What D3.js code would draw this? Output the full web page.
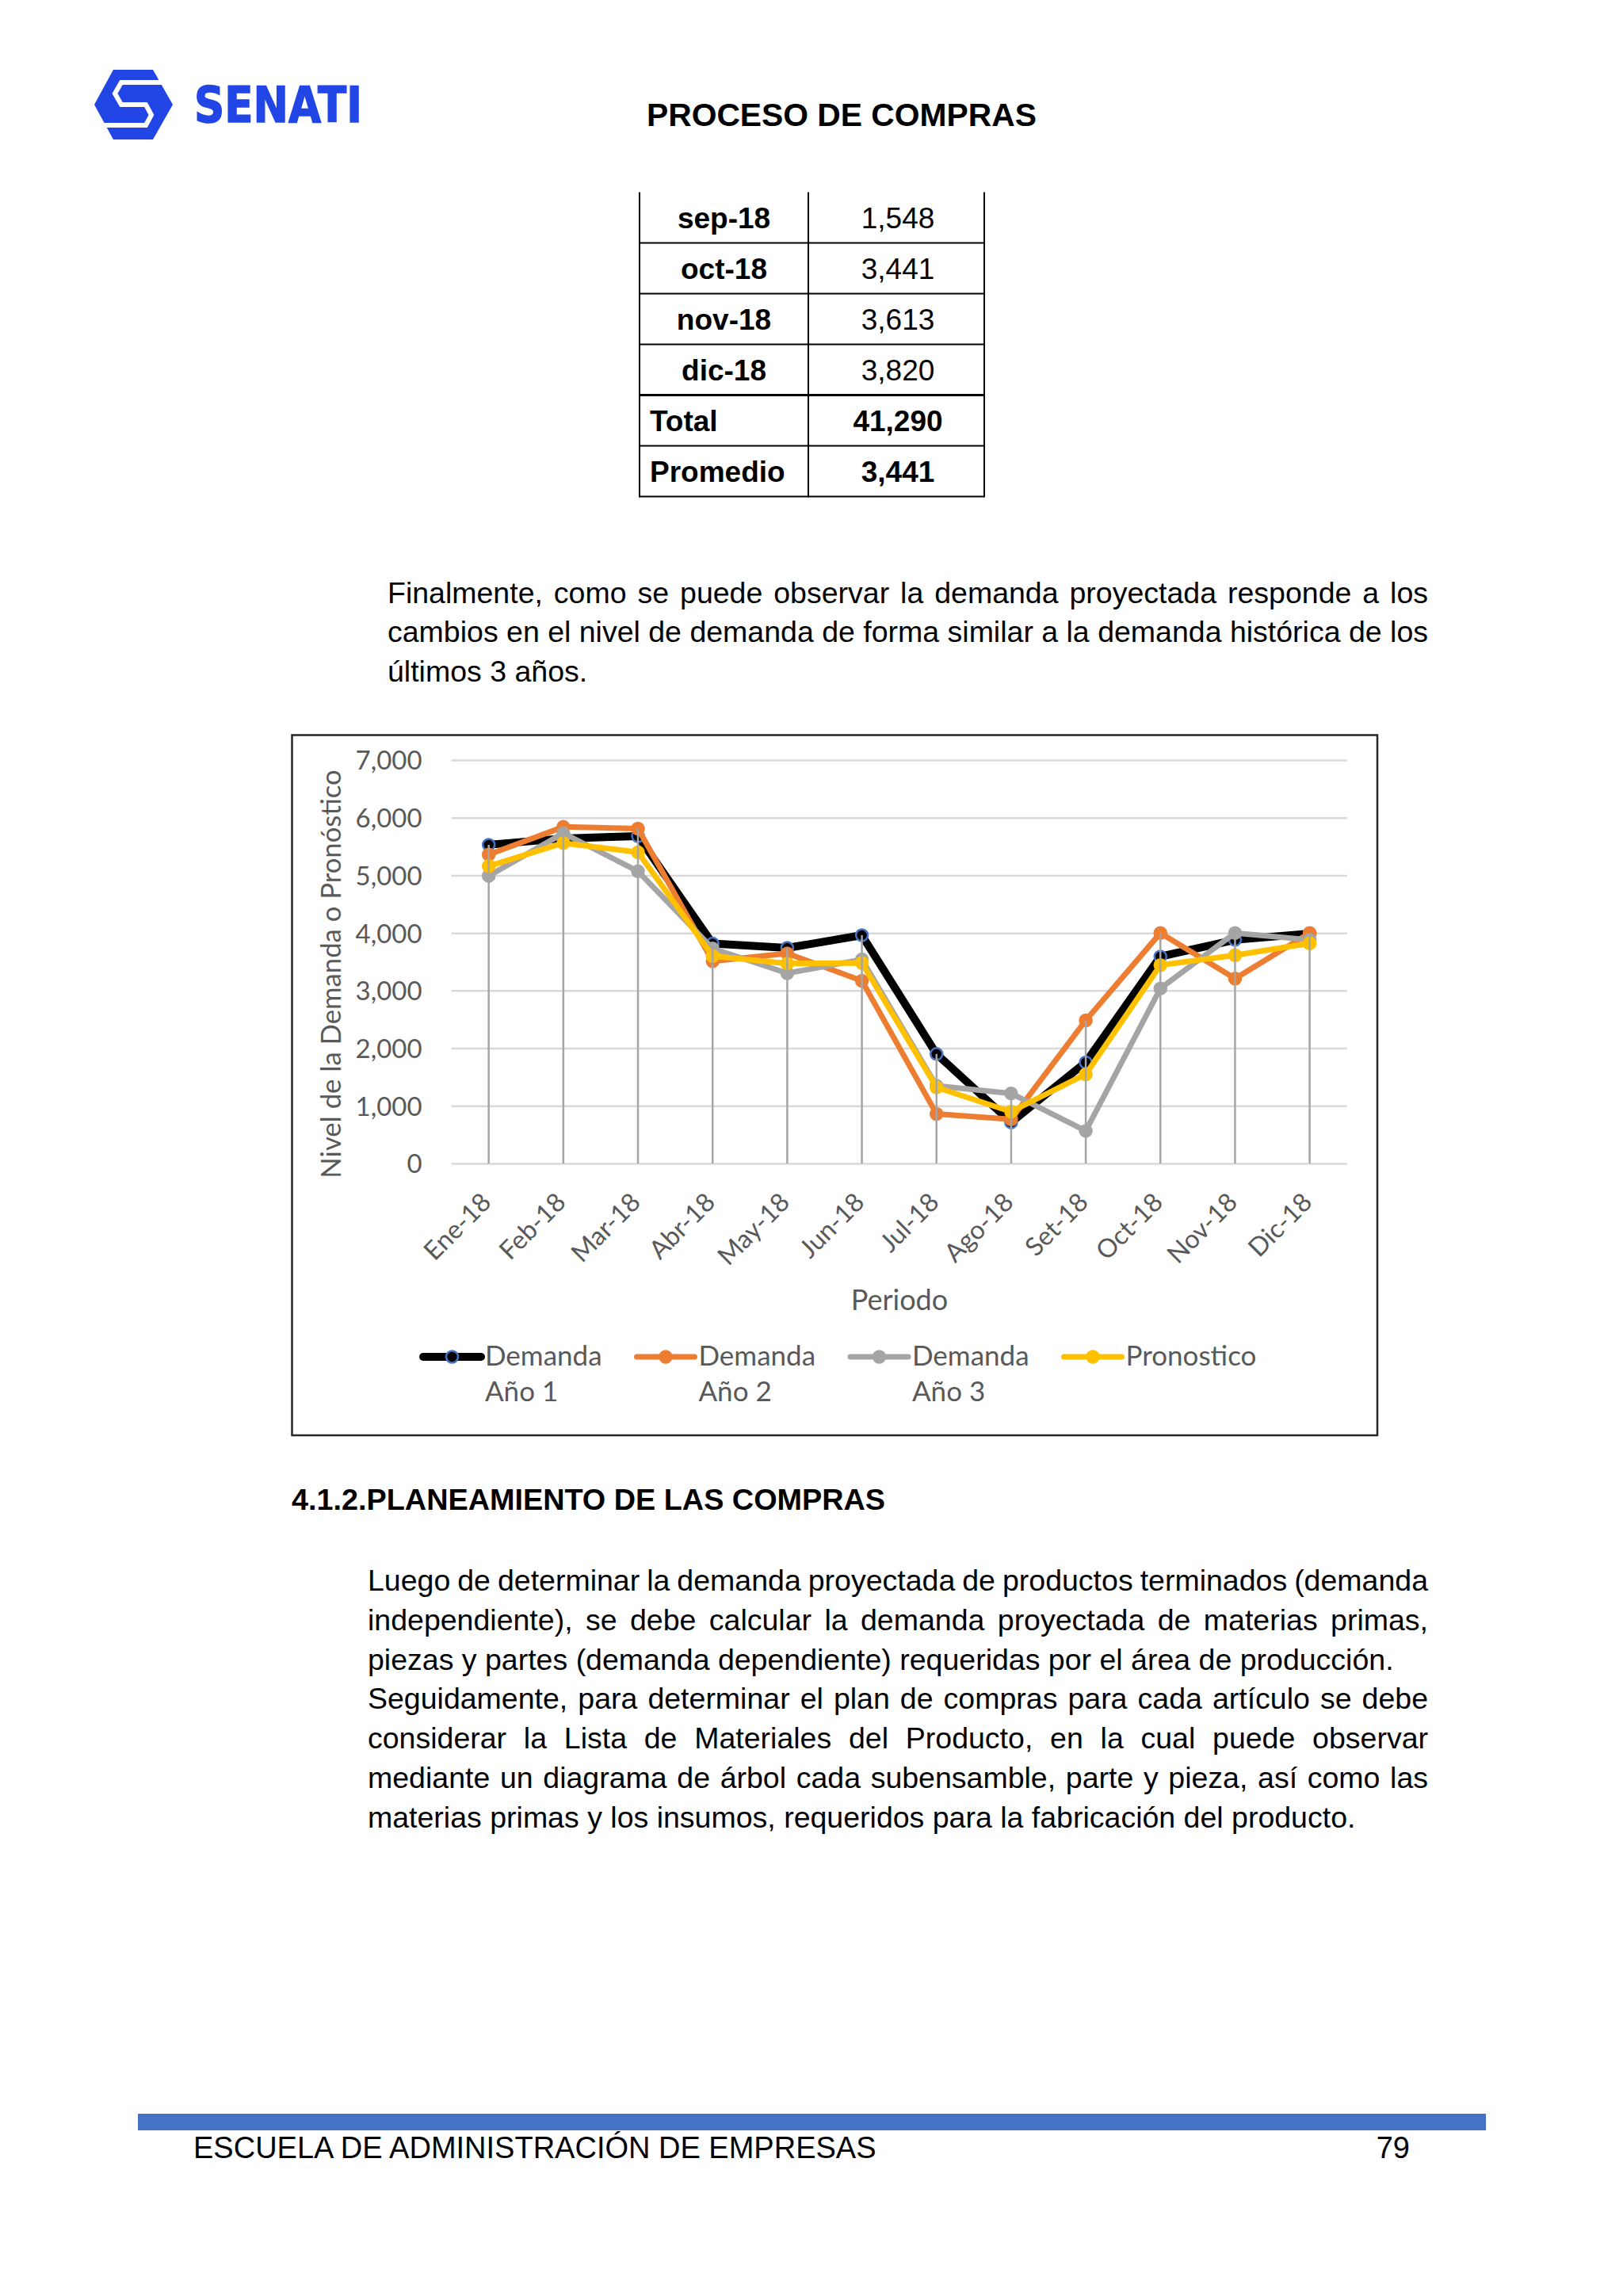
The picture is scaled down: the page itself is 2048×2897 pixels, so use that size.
<!DOCTYPE html>
<html>
<head>
<meta charset="utf-8">
<script src="https://cdn.jsdelivr.net/npm/d3@7/dist/d3.min.js"></script>
<style>
html,body{margin:0;padding:0;background:#fff;}
svg{display:block;}
</style>
</head>
<body>
<svg id="page" width="2048" height="2897"></svg>
<script>
// ---------- DATA ----------
const months = ["Ene-18","Feb-18","Mar-18","Abr-18","May-18","Jun-18","Jul-18","Ago-18","Set-18","Oct-18","Nov-18","Dic-18"];
const demandaAnio1 = [5530, 5640, 5680, 3815, 3740, 3960, 1900, 713, 1754, 3590, 3880, 3990];
const demandaAnio2 = [5360, 5840, 5810, 3510, 3645, 3170, 860, 766, 2483, 4000, 3207, 4000];
const demandaAnio3 = [4990, 5730, 5070, 3730, 3300, 3540, 1347, 1215, 565, 3037, 4000, 3880];
const pronostico   = [5160, 5560, 5400, 3600, 3470, 3480, 1320, 898, 1548, 3441, 3613, 3820];
const yTicks = [0, 1000, 2000, 3000, 4000, 5000, 6000, 7000];
const seriesNames = [["Demanda","Año 1"],["Demanda","Año 2"],["Demanda","Año 3"],["Pronostico"]];
const tableLabels = ["sep-18","oct-18","nov-18","dic-18","Total","Promedio"];
const tableValues = ["1,548","3,441","3,613","3,820","41,290","3,441"];

const para1 = [
  "Finalmente, como se puede observar la demanda proyectada responde a los",
  "cambios en el nivel de demanda de forma similar a la demanda histórica de los",
  "últimos 3 años."
];
const heading = "4.1.2.PLANEAMIENTO DE LAS COMPRAS";
const para2 = [
  "Luego de determinar la demanda proyectada de productos terminados (demanda",
  "independiente), se debe calcular la demanda proyectada de materias primas,",
  "piezas y partes (demanda dependiente) requeridas por el área de producción.",
  "Seguidamente, para determinar el plan de compras para cada artículo se debe",
  "considerar la Lista de Materiales del Producto, en la cual puede observar",
  "mediante un diagrama de árbol cada subensamble, parte y pieza, así como las",
  "materias primas y los insumos, requeridos para la fabricación del producto."
];
const para2Justify = [true, true, false, true, true, true, false];

// ---------- PAGE ----------
const svg = d3.select("#page");
const ARIAL = "'Liberation Sans', Arial, sans-serif";
const CHARTFONT = "Lato, 'Open Sans', sans-serif";
const BLUE = "#2146e5";

// Logo
const logo = svg.append("g");
logo.append("polygon")
  .attr("points", "143,88 193,88 218,132 193,176 143,176 119,132")
  .attr("fill", BLUE);
logo.append("polyline")
  .attr("points", "205,104 153,104 145,118 153,132 184,132 191,145 184,158 130,158")
  .attr("fill", "none").attr("stroke", "#fff").attr("stroke-width", 6)
  .attr("stroke-linejoin", "miter");
logo.append("text")
  .attr("x", 245).attr("y", 154)
  .attr("font-family", "'DejaVu Sans', sans-serif").attr("font-weight", "bold")
  .attr("font-size", 62).attr("fill", BLUE)
  .attr("stroke", BLUE).attr("stroke-width", 1.5)
  .attr("textLength", 212).attr("lengthAdjust", "spacingAndGlyphs")
  .text("SENATI");

// Header
svg.append("text").attr("x", 816).attr("y", 159)
  .attr("font-family", ARIAL).attr("font-weight", "bold").attr("font-size", 40.8)
  .attr("fill", "#000").text("PROCESO DE COMPRAS");

// Table
const tX = [807, 1020, 1242];
const rowTop = 242.5, rowH = 64;
const tg = svg.append("g");
tableLabels.forEach((lab, i) => {
  const yTop = rowTop + i * rowH, yBot = yTop + rowH, yc = (yTop + yBot) / 2;
  tg.append("line").attr("x1", tX[0]).attr("x2", tX[2]).attr("y1", yBot).attr("y2", yBot)
    .attr("stroke", "#000").attr("stroke-width", i === 3 ? 3 : 2);
  const isSum = i >= 4;
  tg.append("text")
    .attr("x", isSum ? 820 : (tX[0] + tX[1]) / 2)
    .attr("y", yc + 13)
    .attr("text-anchor", isSum ? "start" : "middle")
    .attr("font-family", ARIAL).attr("font-weight", "bold").attr("font-size", 37)
    .text(lab);
  tg.append("text")
    .attr("x", (tX[1] + tX[2]) / 2 + 2)
    .attr("y", yc + 13)
    .attr("text-anchor", "middle")
    .attr("font-family", ARIAL).attr("font-weight", isSum ? "bold" : "normal").attr("font-size", 37)
    .text(tableValues[i]);
});
tX.forEach(x => tg.append("line").attr("x1", x).attr("x2", x)
  .attr("y1", rowTop).attr("y2", rowTop + rowH * tableLabels.length + 1)
  .attr("stroke", "#000").attr("stroke-width", 2));

// Justified text helper
function textLine(str, x0, x1, y, justify, opts) {
  const t = svg.append("text").attr("y", y)
    .attr("font-family", ARIAL).attr("font-size", opts.size)
    .attr("font-weight", opts.weight || "normal").attr("fill", "#000");
  if (!justify) { t.attr("x", x0).text(str); return; }
  const words = str.split(" ");
  const widths = words.map(w => {
    const m = svg.append("text").attr("font-family", ARIAL).attr("font-size", opts.size).text(w);
    const wd = m.node().getComputedTextLength(); m.remove(); return wd;
  });
  const total = d3.sum(widths);
  const gap = (x1 - x0 - total) / (words.length - 1);
  let cx = x0;
  words.forEach((w, i) => {
    t.append("tspan").attr("x", cx).text(w);
    cx += widths[i] + gap;
  });
}

para1.forEach((l, i) => textLine(l, 489, 1802, 761 + i * 49.4, i < 2, {size: 37.5}));
textLine(heading, 368, 0, 1905, false, {size: 37.8, weight: "bold"});
para2.forEach((l, i) => textLine(l, 464, 1802, 2007 + i * 49.8, para2Justify[i], {size: 37.5}));

// Footer
svg.append("rect").attr("x", 174).attr("y", 2667).attr("width", 1701).attr("height", 21).attr("fill", "#4472C4");
svg.append("text").attr("x", 244).attr("y", 2723).attr("font-family", ARIAL).attr("font-size", 38)
  .text("ESCUELA DE ADMINISTRACIÓN DE EMPRESAS");
svg.append("text").attr("x", 1779).attr("y", 2723).attr("text-anchor", "end")
  .attr("font-family", ARIAL).attr("font-size", 38).text("79");

// ---------- CHART ----------
const chart = svg.append("g");
chart.append("rect").attr("x", 368.5).attr("y", 927.5).attr("width", 1369.5).attr("height", 883.5)
  .attr("fill", "#fff").attr("stroke", "#262626").attr("stroke-width", 2.5);

const plotLeft = 569.6, plotRight = 1699.7, plotTop = 959, plotBottom = 1468;
const x = d3.scaleBand().domain(months).range([plotLeft, plotRight]).padding(0);
const y = d3.scaleLinear().domain([0, 7000]).range([plotBottom, plotTop]);
const cx = m => x(m) + x.bandwidth() / 2;

// Y axis + gridlines
const gy = chart.append("g").attr("transform", `translate(${plotLeft},0)`)
  .call(d3.axisLeft(y).tickValues(yTicks).tickFormat(d3.format(","))
    .tickSize(-(plotRight - plotLeft)).tickPadding(37));
gy.select(".domain").remove();
gy.selectAll(".tick line").attr("stroke", "#d9d9d9").attr("stroke-width", 2.5);
gy.selectAll(".tick text").attr("font-family", CHARTFONT).attr("font-size", 33)
  .attr("fill", "#595959").attr("dy", "0.36em");

// X axis
const gx = chart.append("g").attr("transform", `translate(0,${plotBottom})`)
  .call(d3.axisBottom(x).tickSize(0));
gx.select(".domain").remove();
gx.selectAll(".tick text")
  .attr("font-family", CHARTFONT).attr("font-size", 32.5).attr("fill", "#595959")
  .attr("text-anchor", "end").attr("x", 0).attr("y", 0).attr("dy", 0)
  .attr("transform", "translate(5,51) rotate(-45)");

// Axis titles
chart.append("text").attr("transform", "translate(430,1229) rotate(-90)")
  .attr("text-anchor", "middle").attr("font-family", CHARTFONT).attr("font-size", 34.7)
  .attr("fill", "#595959").text("Nivel de la Demanda o Pronóstico");
chart.append("text").attr("x", 1135).attr("y", 1653)
  .attr("text-anchor", "middle").attr("font-family", CHARTFONT).attr("font-size", 36)
  .attr("fill", "#595959").text("Periodo");

// Series
const series = [
  {values: demandaAnio1, color: "#000000", width: 10, mfill: "#000000", mstroke: "#4472C4"},
  {values: demandaAnio2, color: "#ED7D31", width: 7, mfill: "#ED7D31", mstroke: "#ED7D31"},
  {values: demandaAnio3, color: "#A5A5A5", width: 7, mfill: "#A5A5A5", mstroke: "#A5A5A5"},
  {values: pronostico,   color: "#FFC000", width: 7, mfill: "#FFC000", mstroke: "#FFC000"}
];
const line = d3.line().x((d, i) => cx(months[i])).y(d => y(d));
series.forEach(s => {
  const g = chart.append("g");
  g.append("path").datum(s.values).attr("d", line).attr("fill", "none")
    .attr("stroke", s.color).attr("stroke-width", s.width)
    .attr("stroke-linejoin", "round").attr("stroke-linecap", "round");
  g.selectAll("circle").data(s.values).join("circle")
    .attr("cx", (d, i) => cx(months[i])).attr("cy", d => y(d)).attr("r", 7.5)
    .attr("fill", s.mfill).attr("stroke", s.mstroke).attr("stroke-width", 2.5);
});

// Drop lines
chart.append("g").selectAll("line").data(months).join("line")
  .attr("x1", m => cx(m)).attr("x2", m => cx(m))
  .attr("y1", (m, i) => y(d3.max(series, s => s.values[i])))
  .attr("y2", y(0))
  .attr("stroke", "#A5A5A5").attr("stroke-width", 2.5);

// Legend
const lg = chart.append("g");
series.forEach((s, i) => {
  const x0 = 534 + 269.5 * i, ly = 1712;
  lg.append("line").attr("x1", x0).attr("x2", x0 + 73).attr("y1", ly).attr("y2", ly)
    .attr("stroke", s.color).attr("stroke-width", s.width).attr("stroke-linecap", "round");
  lg.append("circle").attr("cx", x0 + 36.5).attr("cy", ly).attr("r", 7.5)
    .attr("fill", s.mfill).attr("stroke", s.mstroke).attr("stroke-width", 2.5);
  seriesNames[i].forEach((t, j) => {
    lg.append("text").attr("x", x0 + 78).attr("y", 1723 + j * 45)
      .attr("font-family", CHARTFONT).attr("font-size", 35).attr("fill", "#595959").text(t);
  });
});
</script>
</body>
</html>
